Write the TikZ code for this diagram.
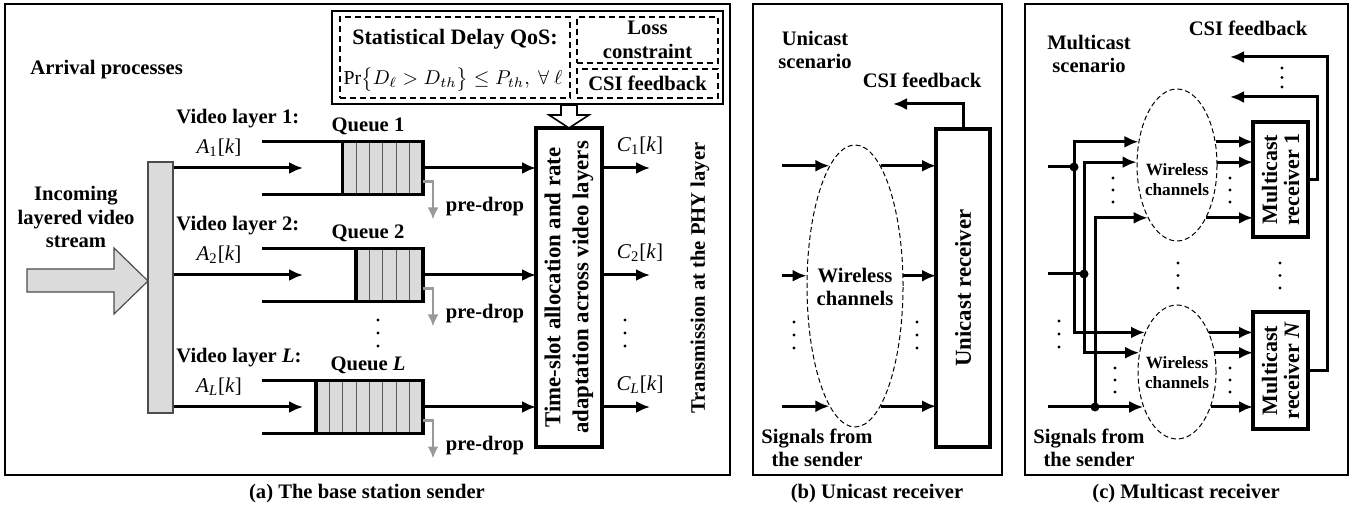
\documentclass[tikz,border=0pt]{standalone}
\usepackage{fontspec}
\setmainfont{Liberation Serif}
\usetikzlibrary{arrows.meta,shapes.geometric,calc}

\tikzset{
	txt/.style={font=\bfseries\fontsize{10.3}{11.8}\selectfont, align=center, inner sep=0pt},
	bigtxt/.style={font=\bfseries\fontsize{11.4}{14}\selectfont, align=center, inner sep=0pt},
	smalltxt/.style={font=\bfseries\fontsize{8.6}{10}\selectfont, align=center, inner sep=0pt},
	var/.style={font=\fontsize{10.5}{12}\selectfont, inner sep=0pt},
	sig/.style={-{Latex[length=7pt,width=6pt]}, line width=1.5pt},
	wire/.style={line width=1.5pt},
	wall/.style={line width=1.7pt},
	drop/.style={-{Latex[length=6pt,width=5.5pt]}, line width=1.3pt, draw=black!40},
	panel/.style={draw, line width=0.6pt},
	rxbox/.style={draw, line width=1.7pt, inner sep=0pt, outer sep=0pt},
	dbox/.style={draw, dash pattern=on 3pt off 2pt, line width=0.6pt, inner sep=0pt},
	chan/.style={draw, ellipse, dash pattern=on 2.5pt off 1.5pt, line width=0.5pt, inner sep=0pt},
	qcells/.style={fill=black!14, inner sep=0pt, outer sep=0pt, minimum height=26.5pt},
	qsep/.style={draw=black!65, line width=0.5pt},
	junction/.style={circle, fill, inner sep=0pt, minimum size=4.5pt},
}

\begin{document}
\begin{tikzpicture}[x=0.5pt, y=-0.5pt]
	\useasboundingbox (0,0) rectangle (1352,512);

	% the three panels
	\draw[panel] (5,4) rectangle (730,475);
	\draw[panel] (753,4) rectangle (1002,475);
	\draw[panel] (1025,4) rectangle (1348,475);
	\node[txt] at (367,494) {(a) The base station sender};
	\node[txt] at (877,494) {(b) Unicast receiver};
	\node[txt] at (1186,494) {(c) Multicast receiver};

	% (a) sender
	\node[txt, anchor=west] at (30,70) {Arrival processes};
	\node[txt] at (76,217) {Incoming\\layered video\\stream};
	\draw[fill=black!14, draw=black!70, line width=0.6pt] (27,269) -- (114,269) -- (114,248) -- (148,281) -- (114,314) -- (114,292) -- (27,292) -- cycle;
	\node[fill=black!14, draw=black!70, line width=0.6pt, inner sep=0pt, minimum width=12.5pt, minimum height=125.5pt] (spl) at (160.5,287.5) {};

	\node[rxbox, minimum width=33pt, minimum height=159.5pt] (ts) at (569,287.5) {};
	\node[bigtxt, rotate=90] at (ts) {Time-slot allocation and rate\\adaptation across video layers};
	\node[txt, rotate=90] at (700,278) {Transmission at the PHY layer};

	\node[draw, line width=1pt, inner sep=0pt, minimum width=195.5pt, minimum height=46.5pt] (qos) at (527.5,57.5) {};
	\node[dbox, minimum width=115pt, minimum height=40.5pt] (dly) at (455,57.5) {};
	\node[txt, font=\bfseries\fontsize{11}{13}\selectfont] at (455,39) {Statistical Delay QoS:};
	\node[inner sep=0pt, font=\fontsize{9.9}{12}\selectfont] at (453,80) {$\Pr\bigl\{D_\ell > D_{th}\bigr\}\le P_{th},\ \forall\ \ell$};
	\node[dbox, minimum width=70.5pt, minimum height=23pt] (loss) at (647.5,40) {};
	\node[txt] at (loss) {Loss\\constraint};
	\node[dbox, minimum width=70.5pt, minimum height=14.5pt] (csi) at (647.5,83.5) {};
	\node[txt] at (csi) {CSI feedback};
	\draw[fill=white, line width=0.8pt] (ts.north) -- ++(-20,-13) -- ++(12,0) -- (qos.south -| 561,0) -- (qos.south -| 577,0) -- ++(0,10) -- ++(12,0) -- cycle;

	\foreach \i/\n/\yc/\lab in {1/6/168/1, 2/5/275/2, L/8/407/{\textit{L}}} {
		\node[qcells, minimum width=\n*6.7pt, anchor=east] (q\i) at (423,\yc) {};
		\foreach \k in {1,...,\n}
			\draw[qsep] ([xshift=-\k*6.7pt]q\i.north east) -- ([xshift=-\k*6.7pt]q\i.south east);
		\draw[wall] (262,{\yc-26.5}) -- (q\i.north east) -- (q\i.south east) -- (262,{\yc+26.5});
		\draw[wall] (q\i.north west) -- (q\i.south west);
		\coordinate (a\i) at (303,\yc);
		\coordinate (c\i) at (650,\yc);
		\draw[sig] (spl.east |- a\i) -- (a\i);
		\draw[sig] (q\i.east) -- (q\i.east -| ts.west);
		\draw[sig] (ts.east |- c\i) -- (c\i);
		\draw[drop] ([yshift=6.5pt]q\i.south east) -- ++(10,0) -- ++(0,38);
		\node[txt] at (485,{\yc+39}) {pre-drop};
		\node[txt] at (368,{\yc-42}) {Queue \lab};
		\node[txt, anchor=west] at (176,{\yc-49}) {Video layer \lab:};
		\node[var] at (219,{\yc-20}) {\textit{A}\textsubscript{\lab}[\textit{k}]};
		\node[var] at (640,{\yc-22}) {\textit{C}\textsubscript{\lab}[\textit{k}]};
	}

	% (b) unicast receiver
	\node[txt] at (815,50) {Unicast\\scenario};
	\node[txt] at (922,80) {CSI feedback};
	\node[rxbox, minimum width=27pt, minimum height=159pt] (urx) at (963,288) {};
	\node[bigtxt, rotate=90] at (urx) {Unicast receiver};
	\node[chan, minimum width=48pt, minimum height=141pt] (uch) at (855,286) {};
	\node[txt] at (855,287) {Wireless\\channels};
	\node[txt] at (817,448) {Signals from\\the sender};
	\coordinate (usrc) at (782,286);
	\coordinate (ucsi) at (893,104);
	\foreach \l/\r in {102/78, 168/12, 258/282} {
		\draw[sig] (usrc |- uch.\l) -- (uch.\l);
		\draw[sig] (uch.\r) -- (uch.\r -| urx.west);
	}
	\draw[sig] (urx.north) |- (ucsi);

	% (c) multicast receiver
	\node[txt] at (1089,54) {Multicast\\scenario};
	\node[txt] at (1248,28) {CSI feedback};
	\node[txt] at (1089,448) {Signals from\\the sender};
	\node[rxbox, minimum width=27.5pt, minimum height=57.5pt] (r1) at (1280.5,179.5) {};
	\node[bigtxt, rotate=90, font=\bfseries\fontsize{11}{11}\selectfont] at (r1) {Multicast\\receiver 1};
	\node[rxbox, minimum width=27.5pt, minimum height=58.5pt] (rN) at (1280.5,370.5) {};
	\node[bigtxt, rotate=90, font=\bfseries\fontsize{11}{11}\selectfont] at (rN) {Multicast\\receiver \textit{N}};
	\node[chan, minimum width=40pt, minimum height=76pt] (e1) at (1177,165) {};
	\node[chan, minimum width=39pt, minimum height=67pt] (e2) at (1177,372) {};
	\node[smalltxt] at (1177,180) {Wireless\\channels};
	\node[smalltxt] at (1177,373) {Wireless\\channels};

	\node[junction] (j1) at (1074,167) {};
	\node[junction] (j2) at (1084,274) {};
	\node[junction] (j3) at (1095,407) {};
	\coordinate (s1) at (1048,167);
	\coordinate (s2) at (1048,274);
	\coordinate (s3) at (1048,407);
	\draw[wire] (s1) -- (j1.center);
	\draw[wire] (s2) -- (j2.center);
	\draw[wire] (s3) -- (j3.center);
	\draw[sig] (j1.center) |- (e1.149);
	\draw[sig] (j1.center) |- (e2.129);
	\draw[sig] (j2.center) |- (e1.176);
	\draw[sig] (j2.center) |- (e2.153);
	\draw[sig] (j3.center) |- (e1.241);
	\draw[sig] (j3.center) |- (e2.226);
	\foreach \a in {31,4,299}
		\draw[sig] (e1.\a) -- (e1.\a -| r1.west);
	\foreach \a in {51,27,314}
		\draw[sig] (e2.\a) -- (e2.\a -| rN.west);

	\coordinate (fb1) at (1230,97);
	\coordinate (fb2) at (1230,57);
	\draw[sig] (r1.east) -- ++(9,0) |- (fb1);
	\draw[sig] (rN.east) -- ++(19,0) |- (fb2);

	% vertical dots
	\foreach \x/\y/\s in {378/320/13, 625/320/13, 794/322/13, 917/322/13, 1282/68/9.5,
		1280/263/12.5, 1178/263/12.5, 1113/178/12, 1230/178/12, 1059/321/13, 1115/368/12, 1230/368/12}
		\foreach \k in {0,1,2}
			\fill (\x,{\y+\k*\s}) circle (0.8pt);

\end{tikzpicture}
\end{document}
